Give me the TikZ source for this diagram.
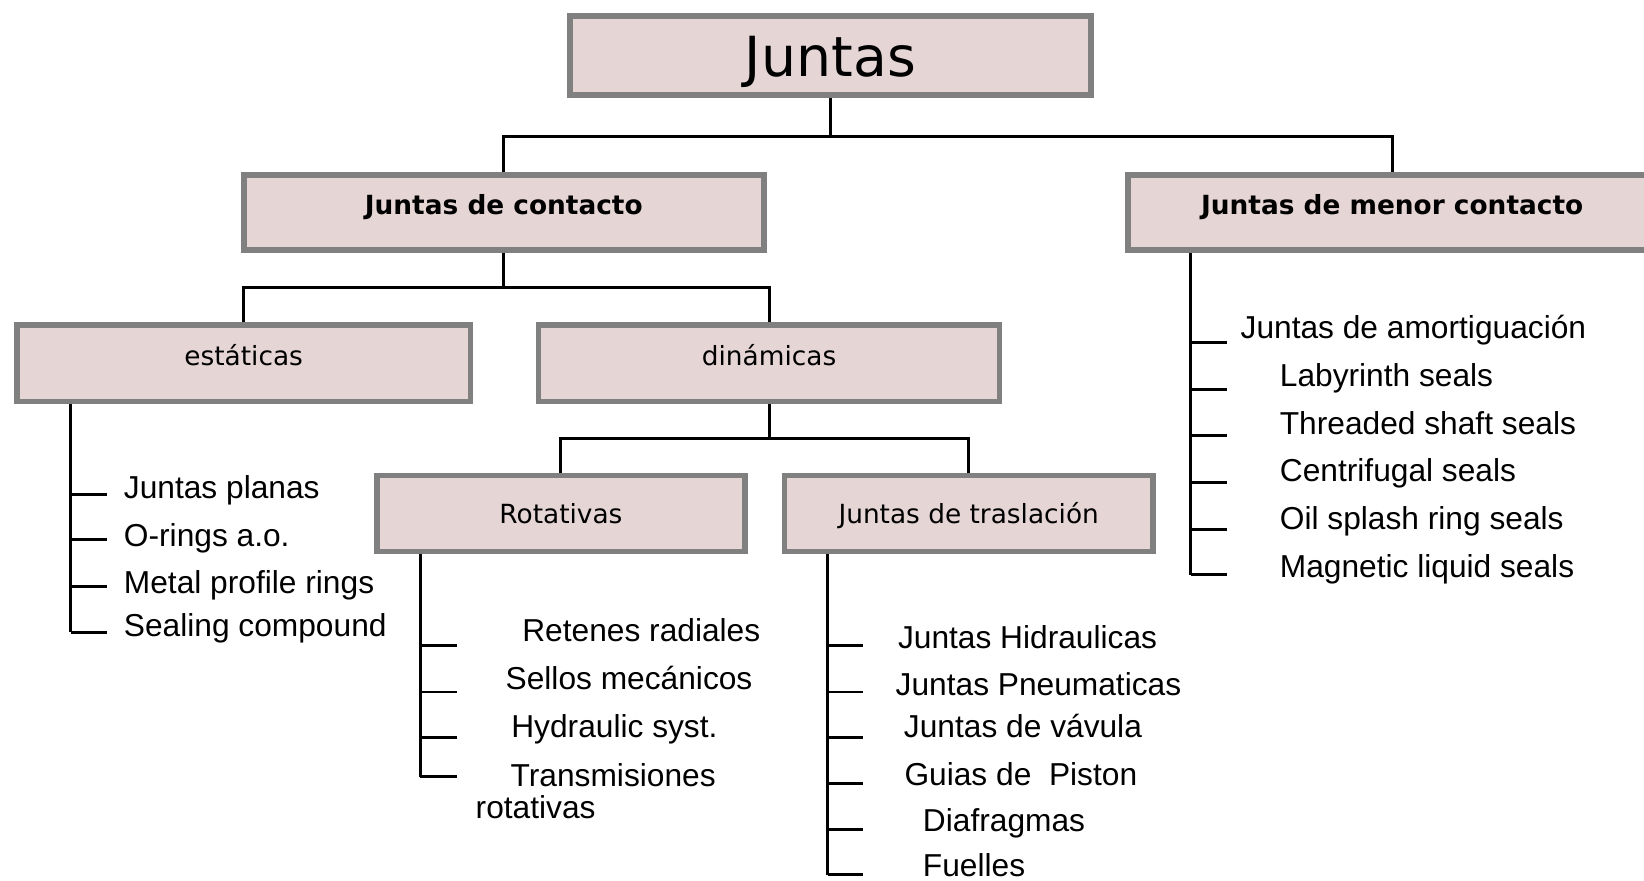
\documentclass[tikz,border=0pt]{standalone}
\usepackage{fontspec}
\setmainfont{Liberation Sans}
\newfontfamily\cajafont{DejaVu Sans}
\definecolor{fondocaja}{RGB}{230,213,213}
\definecolor{bordecaja}{RGB}{128,128,128}
\tikzset{
  caja/.style={draw=bordecaja, fill=fondocaja, line width=1.55pt, inner sep=0pt,
    font=\cajafont\fontsize{7.15}{8}\selectfont, text height=1.4pt, text depth=0pt},
  cajanegrita/.style={caja, font=\cajafont\bfseries\fontsize{7.15}{8}\selectfont},
  cajabaja/.style={caja, text height=5.2pt},
  titulo/.style={caja, font=\cajafont\fontsize{15}{18}\selectfont, text height=11.4pt},
  conector/.style={line width=0.8pt, black},
  entrada/.style={anchor=base west, inner sep=0pt, font=\fontsize{8.6}{10}\selectfont},
}
\begin{document}
\begin{tikzpicture}[x=0.01cm, y=-0.01cm]
\useasboundingbox (0,0) rectangle (1568,840);

% Cajas
\node[titulo, minimum width=4.965cm, minimum height=0.755cm] (juntas) at (792,53) {Juntas};
\node[cajanegrita, minimum width=4.955cm, minimum height=0.715cm] (contacto) at (480.5,202.5) {Juntas de contacto};
\node[cajanegrita, minimum width=5.03cm, minimum height=0.715cm] (menor) at (1327.8,202.5) {Juntas de menor contacto};
\node[caja, minimum width=4.325cm, minimum height=0.727cm] (estaticas) at (232.4,346.5) {estáticas};
\node[caja, minimum width=4.395cm, minimum height=0.727cm] (dinamicas) at (733.5,346.5) {dinámicas};
\node[cajabaja, minimum width=3.505cm, minimum height=0.724cm] (rotativas) at (535,489.8) {Rotativas};
\node[cajabaja, minimum width=3.512cm, minimum height=0.724cm] (traslacion) at (923.9,489.8) {Juntas de traslación};

% Conectores
\draw[conector] (juntas.south) -- ++(0,37) -| (contacto.north);
\draw[conector] (juntas.south) -- ++(0,37) -| (menor.north);
\draw[conector] (contacto.south) -- ++(0,33) -| (estaticas.north);
\draw[conector] (contacto.south) -- ++(0,33) -| (dinamicas.north);
\draw[conector] (dinamicas.south) -- ++(0,33) -| (rotativas.north);
\draw[conector] (dinamicas.south) -- ++(0,33) -| (traslacion.north);

% Lista estáticas
\coordinate (eTronco) at ([xshift=0.54cm]estaticas.south west);
\foreach \y/\b/\texto [count=\i] in {472/475/Juntas planas, 515/521.6/O-rings a.o.,
    559/566.5/Metal profile rings, 603/607.5/Sealing compound} {
  \coordinate (e\i) at (102,\y);
  \node[entrada] (te\i) at (117.5,\b) {\texto};
  \draw[conector] (eTronco |- e\i) -- (e\i);
}
\draw[conector] (eTronco) -- (eTronco |- e4);

% Lista rotativas
\coordinate (rTronco) at ([xshift=0.44cm]rotativas.south west);
\foreach \y [count=\i] in {616,660,703,741} {
  \coordinate (r\i) at (435.6,\y);
  \draw[conector] (rTronco |- r\i) -- (r\i);
}
\draw[conector] (rTronco) -- (rTronco |- r4);
\node[entrada] (tr1) at (497.5,612) {Retenes radiales};
\node[entrada] (tr2) at (481.6,658) {Sellos mecánicos};
\node[entrada] (tr3) at (487,703.5) {Hydraulic syst.};
\node[entrada] (tr4) at (486.4,750) {Transmisiones};
\node[entrada] (tr5) at (453,780.5) {rotativas};

% Lista traslación
\coordinate (tTronco) at ([xshift=0.44cm]traslacion.south west);
\foreach \y/\x/\b/\texto [count=\i] in {616/855.8/618.3/Juntas Hidraulicas,
    660/853.6/662.9/Juntas Pneumaticas, 703.5/861.5/703.5/Juntas de vávula,
    747/862/749.3/Guias de\ \ Piston, 791/879.6/793.2/Diafragmas, 834.5/879.6/836/Fuelles} {
  \coordinate (t\i) at (823.4,\y);
  \node[entrada] (tt\i) at (\x,\b) {\texto};
  \draw[conector] (tTronco |- t\i) -- (t\i);
}
\draw[conector] (tTronco) -- (tTronco |- t6);

% Lista menor contacto
\coordinate (mTronco) at ([xshift=0.62cm]menor.south west);
\foreach \y/\x/\b/\texto [count=\i] in {326.8/1182.6/322.7/Juntas de amortiguación,
    371.3/1220/368.8/Labyrinth seals, 415.8/1220/414/Threaded shaft seals,
    460.4/1220/459.4/Centrifugal seals, 504.8/1220/504.8/Oil splash ring seals,
    548.4/1220/551/Magnetic liquid seals} {
  \coordinate (m\i) at (1170,\y);
  \node[entrada] (tm\i) at (\x,\b) {\texto};
  \draw[conector] (mTronco |- m\i) -- (m\i);
}
\draw[conector] (mTronco) -- (mTronco |- m6);

\end{tikzpicture}
\end{document}
